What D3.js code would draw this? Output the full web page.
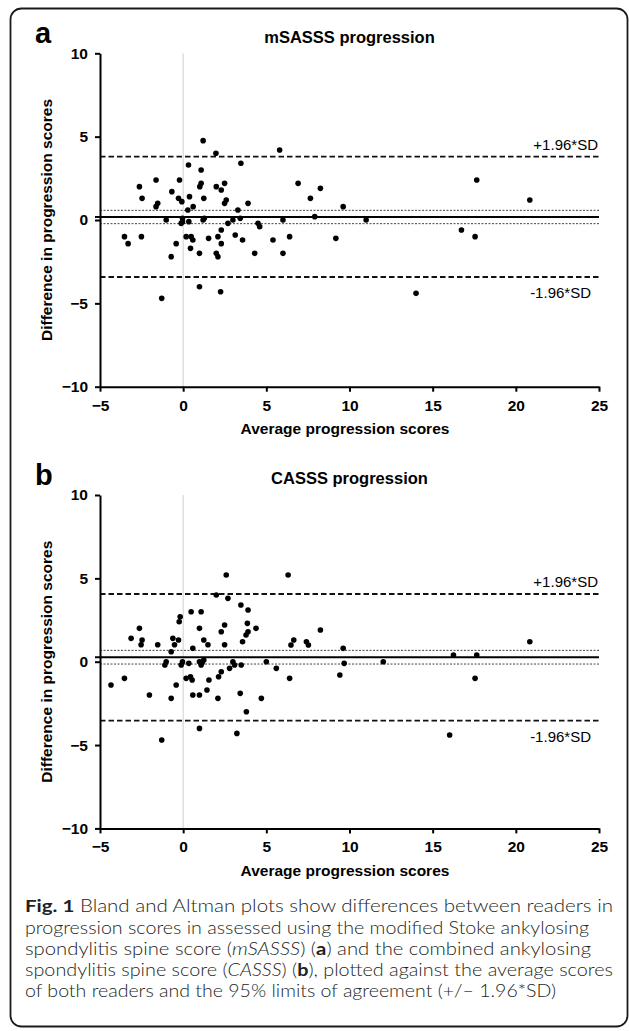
<!DOCTYPE html>
<html>
<head>
<meta charset="utf-8">
<script src="https://cdn.jsdelivr.net/npm/d3@7"></script>
<style>
  body { margin: 0; background: #fff; }
  svg text { font-family: "Liberation Sans", Arial, sans-serif; }
</style>
</head>
<body>
<svg id="fig" width="629" height="1031"></svg>
<script>
// panel a: mSASSS progression (average of readers vs difference)
const avgA = [1.20, 1.97, 3.47, 0.32, 1.08, -2.63, -1.63, -0.22, -0.68, 1.08, 1.00, 1.99, 2.49, 2.29, -2.47, -0.28,
    -0.08, 0.38, 1.24, 2.59, 2.49, 3.90, -1.53, -1.63, 0.60, 0.28, 3.29, -1.02, -0.04, -0.04, 0.34, -0.12, 1.20, 1.27,
    2.99, 3.43, 2.69, -3.53, -3.31, -2.51, 0.18, 0.48, 0.58, -0.42, 0.44, 1.53, 2.09, 2.29, 2.29, 3.13, 3.57, -0.72,
    0.98, 1.99, 2.09, 0.98, 2.25, -1.29,
    5.80, 6.91, 8.25, 7.65, 9.62, 6.00, 7.91, 11.00, 4.50, 4.60, 5.40, 6.40, 4.30, 6.00, 9.18, 16.73, 17.55, 17.65,
    14.00, 20.84];
const diffA = [4.76, 4.0, 3.4, 3.3, 3.0, 2.0, 2.4, 2.4, 1.7, 2.2, 2.0, 2.0, 2.2, 1.8, 1.3, 1.3,
    1.1, 1.4, 1.3, 1.2, 1.0, 1.0, 1.0, 0.8, 0.8, 0.6, 0.6, 0.0, 0.1, -0.1, -0.1, -0.2, 0.0, 0.1,
    0.0, 0.1, -0.2, -1.0, -1.42, -1.0, -1.0, -1.0, -1.2, -1.42, -1.7, -1.1, -1.0, -0.6, -1.42, -0.9, -1.2, -2.2,
    -2.0, -2.0, -2.2, -4.0, -4.3, -4.7,
    4.2, 2.2, 1.9, 1.3, 0.8, 0.0, 0.2, 0.0, -0.2, -0.4, -1.2, -1.0, -2.0, -2.0, -1.1, -0.6, -1.0, 2.4,
    -4.4, 1.2];

// panel b: CASSS progression
const avgB = [2.59, 1.99, 2.69, 3.47, 3.90, 0.48, 1.08, -0.18, -0.24, -2.63, 0.98, 2.49, 2.29, 3.86, 3.78, -3.13,
    -2.47, -2.53, -1.53, -0.62, -0.28, -0.52, 1.24, 1.49, 2.49, 3.57, -0.72, 0.58, -1.02, -1.10, -0.04, -0.12, 0.34,
    0.98, 1.08, 1.24, 1.14, 2.99, 3.09, 2.79, 2.29, 3.49, 2.13, 1.55, 0.18, 0.44, 0.54, -4.34, -3.53, -0.42, 1.43,
    -2.03, -0.72, 0.58, 0.98, 2.09, 3.43, 3.80, 0.98, 3.23, -1.29,
    6.31, 4.38, 3.90, 8.25, 6.48, 6.65, 7.41, 7.53, 9.62, 5.00, 5.60, 9.68, 12.03, 16.25, 17.65, 6.40, 9.42, 17.55,
    4.70, 16.02, 20.84];
const diffB = [5.2, 4.0, 3.8, 3.4, 3.1, 3.0, 3.0, 2.7, 2.4, 2.0, 2.0, 2.2, 1.8, 2.3, 1.6, 1.4,
    1.3, 1.02, 1.02, 1.4, 1.3, 1.02, 1.3, 1.02, 1.02, 1.2, 0.6, 0.8, 0.0, -0.2, 0.0, -0.2, -0.1,
    0.0, -0.2, 0.1, -0.06, 0.0, -0.2, -0.4, -0.6, -0.2, -0.9, -1.1, -1.0, -0.9, -1.1, -1.4, -1.0, -1.4, -1.7,
    -2.0, -2.2, -2.0, -2.0, -2.2, -1.9, -3.0, -4.0, -4.3, -4.7,
    5.2, 2.0, 1.8, 1.9, 1.0, 1.3, 1.2, 1.0, 0.8, 0.0, -0.4, -0.1, 0.0, 0.4, 0.4, -1.0, -0.8, -1.0,
    -2.2, -4.4, 1.2];

// reference lines: lower LoA, lower CI, mean, upper CI, upper LoA
const linesA = [-3.42, -0.22, 0.18, 0.58, 3.80];
const linesB = [-3.53, -0.14, 0.27, 0.68, 4.06];
const lineKinds = ["loa", "ci", "mean", "ci", "loa"];

const xTicks = [-5, 0, 5, 10, 15, 20, 25];
const yTicks = [-10, -5, 0, 5, 10];
const titles = ["mSASSS progression", "CASSS progression"];
const letters = ["a", "b"];
const loaLabels = ["+1.96*SD", "-1.96*SD"];

const svg = d3.select("#fig");

svg.append("rect")
    .attr("width", 629).attr("height", 1031)
    .attr("fill", "#fff");

// rounded frame around the whole figure
svg.append("rect")
    .attr("x", 10.5).attr("y", 8.5)
    .attr("width", 617).attr("height", 1018)
    .attr("rx", 11)
    .attr("fill", "none")
    .attr("stroke", "#1a1a1a")
    .attr("stroke-width", 1.8);

const panelGap = 441.7;

const xScale = d3.scaleLinear().domain([-5, 25]).range([100, 599]);
const yScale = d3.scaleLinear().domain([-10, 10]).range([386.7, 53.3]);

function drawPanel(i, avg, diff, lines) {
    const g = svg.append("g")
        .attr("transform", `translate(0, ${i * panelGap})`);

    // panel letter + title
    g.append("text")
        .attr("x", 35).attr("y", 43)
        .style("font-size", "29px").style("font-weight", "bold")
        .text(letters[i]);

    g.append("text")
        .attr("x", (xScale.range()[0] + xScale.range()[1]) / 2)
        .attr("y", 42.7)
        .attr("text-anchor", "middle")
        .style("font-size", "16.5px").style("font-weight", "bold")
        .text(titles[i]);

    // light vertical line at zero
    g.append("line")
        .attr("x1", xScale(0)).attr("x2", xScale(0))
        .attr("y1", yScale(10)).attr("y2", yScale(-10))
        .style("stroke", "#cfcfcf").style("stroke-width", 1);

    // horizontal reference lines
    lines.forEach((v, k) => {
        const kind = lineKinds[k];
        const ln = g.append("line")
            .attr("x1", kind === "mean" ? xScale(-5) - 5 : xScale(-5))
            .attr("x2", xScale(25))
            .attr("y1", yScale(v)).attr("y2", yScale(v));
        if (kind === "mean") {
            ln.style("stroke", "#000").style("stroke-width", 2);
        } else if (kind === "ci") {
            ln.style("stroke", "#444").style("stroke-width", 1)
                .style("stroke-dasharray", "2,1.5");
        } else {
            ln.style("stroke", "#111").style("stroke-width", 1.8)
                .style("stroke-dasharray", "5.5,3");
        }
    });

    g.append("text")
        .attr("x", 598).attr("y", yScale(lines[4]) - 7)
        .attr("text-anchor", "end")
        .style("font-size", "15px")
        .text(loaLabels[0]);

    g.append("text")
        .attr("x", 591).attr("y", yScale(lines[0]) + 21)
        .attr("text-anchor", "end")
        .style("font-size", "15px")
        .text(loaLabels[1]);

    // axes
    const xAxis = g.append("g")
        .attr("transform", `translate(0, ${yScale(-10)})`)
        .call(d3.axisBottom(xScale).tickValues(xTicks).tickSize(5).tickSizeOuter(0).tickPadding(8));

    const yAxis = g.append("g")
        .attr("transform", `translate(${xScale(-5)}, 0)`)
        .call(d3.axisLeft(yScale).tickValues(yTicks).tickSize(5).tickSizeOuter(0).tickPadding(7));

    [xAxis, yAxis].forEach((ax) => {
        ax.select(".domain").style("stroke", "#000").style("stroke-width", 2);
        ax.selectAll(".tick line").style("stroke", "#000").style("stroke-width", 2);
        ax.selectAll(".tick text")
            .style("font-family", "'Liberation Sans', Arial, sans-serif")
            .style("font-size", "15.5px").style("font-weight", "bold")
            .style("fill", "#000");
    });

    g.append("text")
        .attr("x", 345).attr("y", 434)
        .attr("text-anchor", "middle")
        .style("font-size", "15.5px").style("font-weight", "bold")
        .text("Average progression scores");

    g.append("text")
        .attr("transform", `translate(52, ${yScale(0)}) rotate(-90)`)
        .attr("text-anchor", "middle")
        .style("font-size", "15.5px").style("font-weight", "bold")
        .text("Difference in progression scores");

    // points
    g.selectAll("circle.pt")
        .data(avg.map((a, k) => ({avg: a, diff: diff[k]})))
        .enter()
        .append("circle")
        .attr("class", "pt")
        .attr("cx", (d) => xScale(d.avg))
        .attr("cy", (d) => yScale(d.diff))
        .attr("r", 2.8)
        .style("fill", "#000");
}

drawPanel(0, avgA, diffA, linesA);
drawPanel(1, avgB, diffB, linesB);

// caption, segments: [text, style]
const captionLines = [
    [["Fig. 1", "b"], [" Bland and Altman plots show differences between readers in", ""]],
    [["progression scores in assessed using the modified Stoke ankylosing", ""]],
    [["spondylitis spine score (", ""], ["mSASSS", "i"], [") (", ""], ["a", "b"], [") and the combined ankylosing", ""]],
    [["spondylitis spine score (", ""], ["CASSS", "i"], [") (", ""], ["b", "b"], ["), plotted against the average scores", ""]],
    [["of both readers and the 95% limits of agreement (+/\u2013 1.96*SD)", ""]]
];
// where each caption line ends in the reference
const captionEnds = [613, 589, 591, 613, 556];

const capFont = "Lato, 'Open Sans', sans-serif";
const cap = svg.append("g");
captionLines.forEach((segs, k) => {
    const t = cap.append("text")
        .attr("x", 25)
        .attr("y", 912.3 + k * 21.2)
        .attr("textLength", captionEnds[k] - 25)
        .attr("lengthAdjust", "spacingAndGlyphs")
        .style("font-family", capFont)
        .style("font-weight", 300)
        .style("font-size", "17.5px")
        .style("fill", "#231f20");
    segs.forEach((s) => {
        t.append("tspan")
            .style("font-weight", s[1] === "b" ? "bold" : null)
            .style("font-style", s[1] === "i" ? "italic" : null)
            .text(s[0]);
    });
});
</script>
</body>
</html>
